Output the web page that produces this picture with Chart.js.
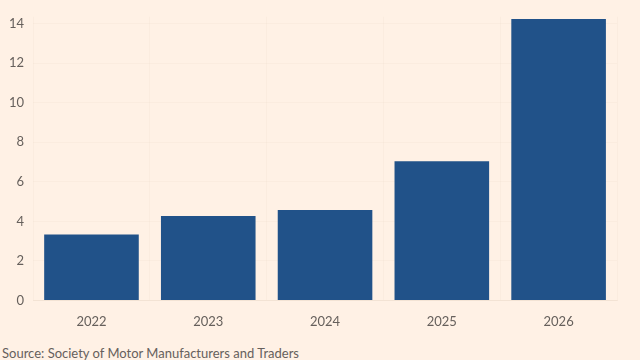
<!DOCTYPE html>
<html>
<head>
<meta charset="utf-8">
<script src="https://cdn.jsdelivr.net/npm/chart.js@4"></script>
<style>
  html, body { margin: 0; padding: 0; background: #fff1e5; }
  #wrap { position: relative; width: 640px; height: 360px; overflow: hidden; }
  canvas { display: block; }
  #src { position: absolute; left: 2px; top: 345px; font: 13px Lato, 'Open Sans', sans-serif; line-height: 16px; color: #66605c; white-space: nowrap; }
</style>
</head>
<body>
<div id="wrap"><canvas id="c" width="640" height="344"></canvas><div id="src"></div></div>
<script>
const categories = ["2022", "2023", "2024", "2025", "2026"];
const values = [3.33, 4.27, 4.58, 7.04, 14.24];
const yTicks = [0, 2, 4, 6, 8, 10, 12, 14];
const sourceText = "Source: Society of Motor Manufacturers and Traders";

document.getElementById("src").textContent = sourceText;

const font = "Lato, 'Open Sans', sans-serif";
const grey = "#66605c";

new Chart(document.getElementById("c"), {
  type: "bar",
  data: {
    labels: categories,
    datasets: [{
      data: values,
      backgroundColor: "#215289",
      borderWidth: 0,
      categoryPercentage: 0.81,
      barPercentage: 1.0
    }]
  },
  options: {
    responsive: false,
    animation: false,
    layout: { padding: { left: 0, right: 23, top: 0, bottom: 0 } },
    plugins: {
      legend: { display: false },
      tooltip: { enabled: false },
      title: { display: false }
    },
    scales: {
      x: {
        grid: { display: true, color: "rgba(225,205,185,0.12)", drawTicks: false },
        border: { display: true, color: "rgba(225,205,185,0.3)" },
        ticks: { color: grey, font: { family: font, size: 13 }, padding: 14 }
      },
      y: {
        min: 0,
        max: 14.35,
        afterBuildTicks: (axis) => { axis.ticks = yTicks.map(v => ({ value: v })); },
        grid: { color: "rgba(225,205,185,0.12)", drawTicks: false },
        border: { display: false },
        ticks: { color: grey, font: { family: font, size: 13 }, padding: 9 }
      }
    }
  }
});
</script>
</body>
</html>
